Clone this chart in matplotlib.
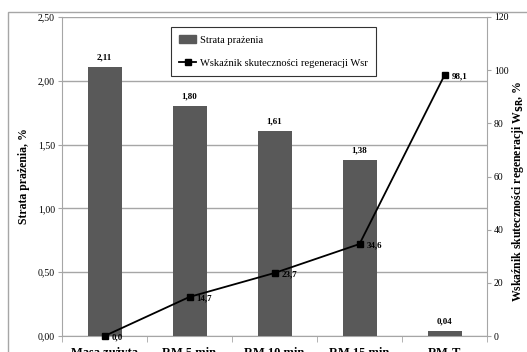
import matplotlib
matplotlib.use("Agg")
import matplotlib.pyplot as plt
from matplotlib.patches import Rectangle
from matplotlib.lines import Line2D
import numpy as np

categories = ["Masa zużyta", "RM 5 min", "RM 10 min", "RM 15 min", "RM-T"]
strata = [2.11, 1.80, 1.61, 1.38, 0.04]
wsr = [0.0, 14.7, 23.7, 34.6, 98.1]
strata_labels = ["2,11", "1,80", "1,61", "1,38", "0,04"]
wsr_labels = ["0,0", "14,7", "23,7", "34,6", "98,1"]
left_ticks = [0, 0.5, 1.0, 1.5, 2.0, 2.5]
left_ticklabels = ["0,00", "0,50", "1,00", "1,50", "2,00", "2,50"]
right_ticks = [0, 20, 40, 60, 80, 100, 120]

plt.rcParams['font.family'] = ['Liberation Serif', 'DejaVu Serif']

W, H = 527, 352
fig = plt.figure(figsize=(W / 100, H / 100), dpi=100)

# outer chart frame
fig.patches.append(Rectangle((8 / W, -0.1), 1.2, 1 - 12 / H + 0.1, transform=fig.transFigure,
                             fill=False, edgecolor='#a6a6a6', linewidth=1.0))

ax = fig.add_axes([62 / W, 1 - 336 / H, (487 - 62) / W, (336 - 17) / H])
x = np.arange(len(categories))
ax.bar(x, strata, width=0.4, color='#595959', zorder=3)
ax.set_xlim(-0.5, len(categories) - 0.5)
ax.set_ylim(0, 2.5)
ax.set_yticks(left_ticks)
ax.set_yticklabels(left_ticklabels, fontsize=7)
ax.yaxis.grid(True, color='#a6a6a6', linewidth=1.0, zorder=0)
ax.set_axisbelow(True)
for s in ['top', 'right']:
    ax.spines[s].set_visible(False)
for s in ['left', 'bottom']:
    ax.spines[s].set_color('#a6a6a6')
ax.tick_params(axis='y', length=3, color='#a6a6a6', pad=2)
ax.set_xticks(x)
ax.set_xticklabels(categories, fontsize=9, fontweight='bold')
ax.tick_params(axis='x', length=0, pad=8)
ax.set_xticks(np.arange(-0.5, len(categories) + 0.5, 1), minor=True)
ax.tick_params(axis='x', which='minor', length=4, color='#a6a6a6')
ax.set_ylabel("Strata prażenia, %", fontsize=8.5, fontweight='bold', labelpad=6)

for xi, v, lab in zip(x, strata, strata_labels):
    ax.annotate(lab, (xi, v), xytext=(0, 4), textcoords='offset points',
                ha='center', va='bottom', fontsize=6.5, fontweight='bold')

ax2 = ax.twinx()
ax2.set_ylim(0, 120)
ax2.set_yticks(right_ticks)
ax2.set_yticklabels([str(t) for t in right_ticks], fontsize=7)
for s in ['top', 'left', 'bottom']:
    ax2.spines[s].set_visible(False)
ax2.spines['right'].set_color('#a6a6a6')
ax2.tick_params(axis='y', length=3, color='#a6a6a6', pad=2)
ax2.plot(x, wsr, color='black', linewidth=1.3, marker='s', markersize=5,
         markerfacecolor='black', zorder=5, clip_on=False)
for xi, v, lab in zip(x, wsr, wsr_labels):
    ax2.annotate(lab, (xi, v), xytext=(5, -1), textcoords='offset points',
                 ha='left', va='center', fontsize=6.5, fontweight='bold')
ax2.set_ylabel("Wskaźnik skuteczności regeneracji W$_{\\mathbf{SR}}$, %",
               fontsize=8.5, fontweight='bold', rotation=90, ha='center', va='center')
ax2.yaxis.set_label_coords((518 - 62) / (487 - 62), (336 - 191) / (336 - 17))

# legend
handles = [Rectangle((0, 0), 1, 1, color='#595959'),
           Line2D([], [], color='black', marker='s', markersize=5, linewidth=1.3)]
leg = fig.legend(handles, ["Strata prażenia", "Wskaźnik skuteczności regeneracji Wsr"],
                 loc='upper left', bbox_to_anchor=(171 / W, 1 - 27 / H), fontsize=7.6,
                 frameon=True, fancybox=False, edgecolor='black', handlelength=1.6,
                 handletextpad=0.3, labelspacing=1.3, borderpad=0.8, borderaxespad=0)
leg.get_frame().set_linewidth(0.8)

fig.savefig("out.png", dpi=100)
